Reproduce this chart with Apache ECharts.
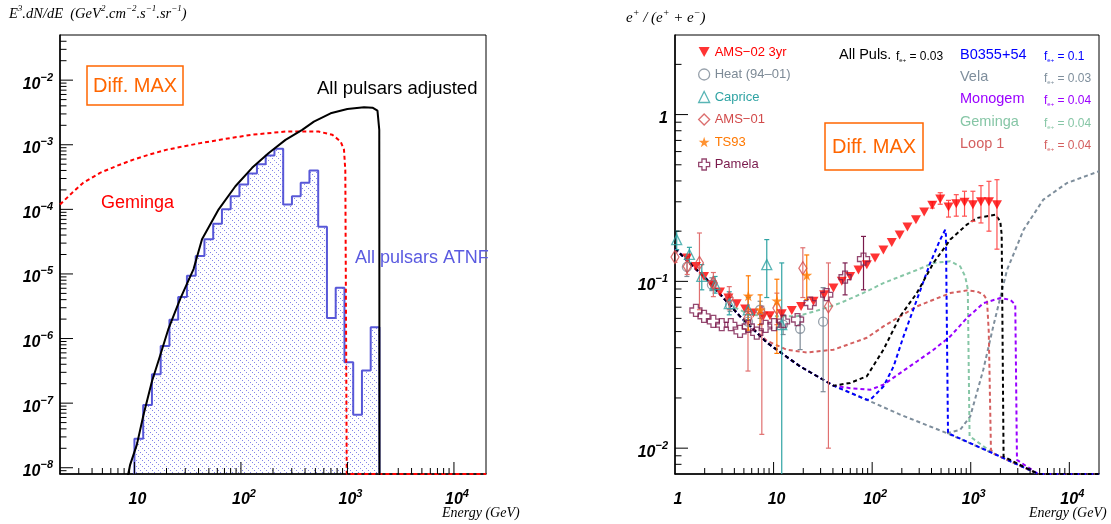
<!DOCTYPE html>
<html><head><meta charset="utf-8">
<script src="https://cdn.jsdelivr.net/npm/echarts@6/dist/echarts.min.js"></script>
<style>html,body{margin:0;padding:0;background:#fff}#c{width:1111px;height:524px}</style>
</head><body><div id="c"></div>
<script>
// ================= LEFT PANEL DATA =================
const L_xRange = [2, 20000];
const L_yRange = [8e-9, 0.05];
const L_xMajor = [10, 100, 1000, 10000];
const L_xLabels = ['10', '10^2', '10^3', '10^4'];
const L_yMajor = [1e-8, 1e-7, 1e-6, 1e-5, 1e-4, 1e-3, 1e-2];
const L_yLabels = ['10^-8', '10^-7', '10^-6', '10^-5', '10^-4', '10^-3', '10^-2'];

// ATNF histogram (bin edges in GeV, bin contents)
const histEdges = [10, 12.08, 14.60, 17.64, 21.31, 25.75, 31.11, 37.59, 45.42, 54.88, 66.31, 80.12, 96.81, 116.97, 141.33, 170.77, 206.34, 249.3, 301.2, 364.0, 439.8, 531.4, 642.1, 775.8, 937.4, 1132.7, 1368.6, 1653.7, 1998];
const histValues = [2.8e-8, 9.4e-8, 2.8e-7, 7.7e-7, 1.96e-6, 4.4e-6, 9.4e-6, 1.9e-5, 3.45e-5, 6.0e-5, 1.0e-4, 1.6e-4, 2.43e-4, 3.6e-4, 5.0e-4, 6.8e-4, 8.7e-4, 1.19e-4, 1.6e-4, 2.57e-4, 4.0e-4, 5.4e-5, 2.08e-6, 6.1e-6, 4.3e-7, 6.6e-8, 3.2e-7, 1.5e-6];

// All pulsars adjusted (black)
const adjE = [8.6, 9.12, 10.54, 12.17, 14.59, 17.47, 20.9, 26.9, 35.9, 43.1, 61.8, 88.7, 127.3, 182.5, 262, 376, 484, 695, 998, 1432, 1718, 1914, 1990, 2000];
const adjV = [7e-9, 1.12e-8, 2.28e-8, 6.6e-8, 2.16e-7, 5.5e-7, 1.43e-6, 4.1e-6, 1.19e-5, 3.45e-5, 1.0e-4, 2.28e-4, 4.39e-4, 7.45e-4, 1.19e-3, 1.70e-3, 2.28e-3, 3.07e-3, 3.58e-3, 3.80e-3, 3.75e-3, 3.37e-3, 1.7e-3, 5e-9];

// Geminga (red dashed)
const gemE = [2, 2.6, 3.31, 4.75, 6.8, 9.77, 14, 20.2, 41.6, 80, 127, 262, 536, 721, 864, 928, 955, 985, 20000];
const gemV = [1.19e-4, 1.8e-4, 2.58e-4, 3.67e-4, 4.7e-4, 5.88e-4, 7.1e-4, 8.4e-4, 1.06e-3, 1.27e-3, 1.43e-3, 1.60e-3, 1.60e-3, 1.43e-3, 1.12e-3, 8.4e-4, 4.0e-4, 8e-9, 8e-9];

// ================= RIGHT PANEL DATA =================
const R_xRange = [1, 20000];
const R_yRange = [0.007, 3];
const R_xMajor = [1, 10, 100, 1000, 10000];
const R_xLabels = ['1', '10', '10^2', '10^3', '10^4'];
const R_yMajor = [0.01, 0.1, 1];
const R_yLabels = ['10^-2', '10^-1', '1'];

// secondary background (shared part of all model curves)
const bkgE = [1, 2.1, 4.57, 8.53, 18.6, 40.5, 88.3, 192, 573, 1692, 4842, 20000];
const bkgV = [0.157, 0.1026, 0.0617, 0.0430, 0.0309, 0.0237, 0.0195, 0.0159, 0.0123, 0.0093, 0.0070, 0.0070];
// pulsar curves (own part, joined to background)
const allPulsE = [59.8, 88.3, 130, 192, 284, 419, 620, 914, 1156, 1774, 1994, 2060, 2153];
const allPulsV = [0.0246, 0.0270, 0.0389, 0.0617, 0.0851, 0.129, 0.178, 0.219, 0.240, 0.251, 0.229, 0.19, 0.0089];
const b0355E = [95.5, 130, 165, 208, 284, 388, 490, 551, 560, 588];
const b0355V = [0.0195, 0.0234, 0.0309, 0.0468, 0.0776, 0.129, 0.178, 0.204, 0.19, 0.0123];
const velaE = [573, 782, 988, 1340, 1692, 2333, 3436, 5445, 9480, 20000];
const velaV = [0.0123, 0.0129, 0.0155, 0.0295, 0.0537, 0.117, 0.204, 0.309, 0.389, 0.457];
const monoE = [59.8, 95.5, 130, 192, 284, 419, 620, 914, 1349, 1994, 2518, 2830, 2944];
const monoV = [0.0229, 0.0224, 0.024, 0.0282, 0.0331, 0.0389, 0.0468, 0.0603, 0.0741, 0.0794, 0.0776, 0.0724, 0.0085];
const gemRE = [3.62, 5.77, 9.95, 17.2, 29.7, 47.3, 88.3, 130, 284, 419, 620, 782, 879, 933, 973];
const gemRV = [0.0718, 0.0631, 0.0617, 0.0617, 0.0676, 0.0741, 0.0871, 0.0977, 0.117, 0.129, 0.132, 0.123, 0.107, 0.09, 0.0118];
const loopE = [8.53, 13.6, 21.7, 40.5, 88.3, 130, 192, 284, 419, 620, 914, 1156, 1349, 1461, 1523, 1603];
const loopV = [0.0441, 0.0389, 0.0375, 0.0389, 0.0459, 0.0537, 0.0617, 0.0708, 0.0776, 0.0851, 0.0883, 0.0871, 0.0832, 0.0776, 0.05, 0.0098];

// measurements
const amsE = [1.33, 1.63, 1.97, 2.36, 2.86, 3.48, 4.23, 5.14, 6.24, 7.87, 9.2, 12.1, 15.3, 19.0, 25.4, 32.6, 40.5, 49.2, 59.8, 72.6, 88.3, 107, 130, 158, 190, 228, 278, 337, 407, 490, 595, 713, 865, 1052, 1270, 1530, 1845];
const amsV = [0.138, 0.123, 0.107, 0.0955, 0.0863, 0.0794, 0.0735, 0.0683, 0.0646, 0.0617, 0.0622, 0.064, 0.067, 0.0708, 0.0759, 0.0832, 0.0912, 0.1, 0.107, 0.117, 0.126, 0.138, 0.154, 0.171, 0.19, 0.212, 0.234, 0.261, 0.286, 0.312, 0.279, 0.292, 0.298, 0.288, 0.3, 0.3, 0.288];
const amsLo = [null, null, null, null, null, null, null, null, null, null, null, null, null, null, null, null, null, null, null, null, null, null, null, null, null, null, null, null, 0.275, 0.29, 0.243, 0.246, 0.246, 0.229, 0.224, 0.2, 0.156];
const amsHi = [null, null, null, null, null, null, null, null, null, null, null, null, null, null, null, null, null, null, null, null, null, null, null, null, null, null, null, null, 0.3, 0.34, 0.306, 0.331, 0.347, 0.347, 0.375, 0.398, 0.407];
const heatE = [1.32, 2.37, 3.62, 5.5, 7.3, 12.5, 18.6, 31.8];
const heatV = [0.122, 0.0955, 0.0725, 0.0573, 0.0676, 0.055, 0.052, 0.0573];
const heatLo = [0.107, 0.088, 0.066, 0.05, 0.06, 0.048, 0.039, 0.0218];
const heatHi = [0.141, 0.105, 0.08, 0.066, 0.076, 0.063, 0.062, 0.0917];
const capE = [1.04, 1.4, 1.87, 2.55, 3.55, 5.54, 8.53, 12.1];
const capV = [0.178, 0.145, 0.107, 0.0955, 0.0735, 0.0676, 0.126, 0.055];
const capLo = [0.155, 0.13, 0.089, 0.085, 0.063, 0.059, 0.08, 0.005];
const capHi = [0.2, 0.16, 0.126, 0.107, 0.0866, 0.08, 0.178, 0.129];
const ams1E = [1.0, 1.33, 1.77, 2.45, 3.55, 5.5, 7.6, 10.8, 19.8, 36];
const ams1V = [0.14, 0.123, 0.129, 0.0977, 0.0794, 0.0605, 0.0646, 0.0692, 0.12, 0.0708];
const ams1Lo = [0.13, 0.11, 0.0676, 0.081, 0.0676, 0.029, 0.0121, 0.055, 0.08, 0.01];
const ams1Hi = [0.15, 0.135, 0.195, 0.113, 0.093, 0.082, 0.071, 0.085, 0.159, 0.129];
const tsE = [5.54, 7.3, 10.8, 21.7];
const tsV = [0.082, 0.0676, 0.0766, 0.109];
const tsLo = [0.051, 0.055, 0.037, 0.078];
const tsHi = [0.108, 0.083, 0.103, 0.144];
const pamE = [1.63, 1.97, 2.45, 2.98, 3.68, 4.57, 5.54, 6.75, 8.31, 10.1, 12.6, 17.5, 23.5, 34.6, 53.1, 81.7];
const pamV = [0.067, 0.0617, 0.0575, 0.055, 0.055, 0.0501, 0.0537, 0.049, 0.0537, 0.055, 0.0575, 0.059, 0.0741, 0.0832, 0.106, 0.136];
const pamLo = [null, null, null, null, null, null, null, null, null, null, null, null, null, null, 0.083, 0.089];
const pamHi = [null, null, null, null, null, null, null, null, null, null, null, null, null, null, 0.129, 0.186];

// ================= HELPERS =================
const SANS = '"Liberation Sans", Arial, sans-serif';
const SERIF = '"Liberation Serif", "DejaVu Serif", serif';
const zip = (a, b) => a.map((v, i) => [v, b[i]]);
function joinBkg(E, V) {
  const out = [];
  bkgE.forEach((e, i) => { if (e < E[0]) out.push([e, bkgV[i]]); });
  E.forEach((e, i) => out.push([e, V[i]]));
  bkgE.forEach((e, i) => { if (e > E[E.length - 1]) out.push([e, bkgV[i]]); });
  return out;
}
function minorTicks(lo, hi) {
  const out = [];
  for (let d = Math.floor(Math.log10(lo)); d <= Math.ceil(Math.log10(hi)); d++)
    for (let k = 2; k <= 9; k++) { const v = k * Math.pow(10, d); if (v > lo * 1.0001 && v < hi * 0.9999) out.push(v); }
  return out;
}
function supText(label) {
  const p = label.split('^');
  return p.length > 1 ? `{b|${p[0]}}{s|${p[1].replace('-', '\u2212')}}` : `{b|${p[0]}}`;
}
const tickRich = {
  b: { fontSize: 16, fontWeight: 'bold', fontStyle: 'italic', fontFamily: SANS, fill: '#000', verticalAlign: 'bottom', lineHeight: 20 },
  s: { fontSize: 11, fontWeight: 'bold', fontStyle: 'italic', fontFamily: SANS, fill: '#000', verticalAlign: 'top', lineHeight: 12 }
};
function tickSeries(gi, axis, vals, len, other) {
  return {
    type: 'custom', xAxisIndex: gi, yAxisIndex: gi, clip: false, silent: true, z: 6,
    data: vals.map(v => axis === 'x' ? [v, other, len] : [other, v, len]),
    renderItem(params, api) {
      const p = api.coord([api.value(0), api.value(1)]);
      const l = api.value(2);
      const shape = axis === 'x' ? { x1: p[0], y1: p[1], x2: p[0], y2: p[1] - l } : { x1: p[0], y1: p[1], x2: p[0] + l, y2: p[1] };
      return { type: 'line', shape, style: { stroke: '#000', lineWidth: 1 } };
    }
  };
}
function labelSeries(gi, axis, vals, labels, other) {
  return {
    type: 'custom', xAxisIndex: gi, yAxisIndex: gi, clip: false, silent: true, z: 6,
    data: vals.map((v, i) => axis === 'x' ? [v, other, i] : [other, v, i]),
    renderItem(params, api) {
      const p = api.coord([api.value(0), api.value(1)]);
      const lab = labels[api.value(2)];
      const isX = axis === 'x';
      return {
        type: 'text', x: isX ? p[0] + 3 : p[0] - 7, y: isX ? p[1] + 24 : p[1] + 2,
        style: { text: supText(lab), rich: tickRich, align: isX ? 'center' : 'right', verticalAlign: 'middle', fill: '#000' }
      };
    }
  };
}
function errSeries(gi, E, V, lo, hi, color) {
  const data = [];
  E.forEach((e, i) => { if (lo[i] != null) data.push([e, lo[i], hi[i]]); });
  return {
    type: 'custom', xAxisIndex: gi, yAxisIndex: gi, clip: true, silent: true, z: 3,
    data,
    renderItem(params, api) {
      const a = api.coord([api.value(0), api.value(1)]);
      const b = api.coord([api.value(0), api.value(2)]);
      const st = { stroke: color, lineWidth: 1.2 };
      return { type: 'group', children: [
        { type: 'line', shape: { x1: a[0], y1: a[1], x2: b[0], y2: b[1] }, style: st },
        { type: 'line', shape: { x1: a[0] - 2.5, y1: a[1], x2: a[0] + 2.5, y2: a[1] }, style: st },
        { type: 'line', shape: { x1: b[0] - 2.5, y1: b[1], x2: b[0] + 2.5, y2: b[1] }, style: st }
      ] };
    }
  };
}

// hatch pattern
const pat = document.createElement('canvas'); pat.width = 6; pat.height = 6;
const pg = pat.getContext('2d'); pg.fillStyle = 'rgba(90,90,225,0.75)';
for (let i = 0; i < 6; i += 2) pg.fillRect(i, i, 1, 1);

// histogram outline points (built from bins)
const histLine = [[histEdges[0], L_yRange[0]]];
histValues.forEach((v, i) => { histLine.push([histEdges[i], v]); histLine.push([histEdges[i + 1], v]); });
histLine.push([histEdges[histEdges.length - 1], L_yRange[0]]);

// ================= SYMBOLS / COLORS =================
const SYM_DOWN = 'path://M0,0 L10,0 L5,9 Z';
const SYM_STAR = 'path://M50,0 L61,35 L98,35 L68,57 L79,91 L50,70 L21,91 L32,57 L2,35 L39,35 Z';
const SYM_CROSS = 'path://M3,0 L7,0 L7,3 L10,3 L10,7 L7,7 L7,10 L3,10 L3,7 L0,7 L0,3 L3,3 Z';
const C = { ams: '#ff0000', heat: '#7d8a96', cap: '#2fa3a3', ams1: '#d24a4a', ts: '#ff7800', pam: '#7a1a4c',
  all: '#000000', b0355: '#0000ff', vela: '#7e8e9c', mono: '#9a00ff', gem: '#86c6a6', loop: '#d45f5f' };

const measures = [
  { name: 'AMS\u221202 3yr', E: amsE, V: amsV, lo: amsLo, hi: amsHi, sym: SYM_DOWN, size: [10, 9], color: C.ams, hollow: false, err: '#ff5050' },
  { name: 'Heat (94\u201301)', E: heatE, V: heatV, lo: heatLo, hi: heatHi, sym: 'circle', size: 9, color: C.heat, hollow: true, err: C.heat },
  { name: 'Caprice', E: capE, V: capV, lo: capLo, hi: capHi, sym: 'triangle', size: [10, 10], color: C.cap, hollow: true, err: C.cap },
  { name: 'AMS\u221201', E: ams1E, V: ams1V, lo: ams1Lo, hi: ams1Hi, sym: 'diamond', size: [8, 13], color: C.ams1, hollow: true, err: '#e07070' },
  { name: 'TS93', E: tsE, V: tsV, lo: tsLo, hi: tsHi, sym: SYM_STAR, size: 11, color: C.ts, hollow: false, err: C.ts },
  { name: 'Pamela', E: pamE, V: pamV, lo: pamLo, hi: pamHi, sym: SYM_CROSS, size: 12, color: C.pam, hollow: true, err: C.pam }
];

const dash = [4, 3];
function curve(gi, data, color, z) {
  return { type: 'line', xAxisIndex: gi, yAxisIndex: gi, data, showSymbol: false, symbol: 'none', silent: true,
    smooth: false, z: z || 2, lineStyle: { color, width: 2, type: dash }, clip: true };
}

const series = [];
// --- left panel ---
series.push({
  type: 'custom', xAxisIndex: 0, yAxisIndex: 0, clip: true, silent: true, z: 1,
  data: histValues.map((v, i) => [histEdges[i], v, histEdges[i + 1]]),
  renderItem(params, api) {
    const a = api.coord([api.value(0), api.value(1)]);
    const b = api.coord([api.value(2), L_yRange[0]]);
    return { type: 'rect', shape: { x: a[0], y: a[1], width: b[0] - a[0], height: b[1] - a[1] },
      style: { fill: { image: pat, repeat: 'repeat' }, stroke: null } };
  }
});
series.push({ type: 'line', xAxisIndex: 0, yAxisIndex: 0, data: histLine, showSymbol: false, symbol: 'none', silent: true, z: 2,
  lineStyle: { color: '#5858d8', width: 2 } });
series.push({ type: 'line', xAxisIndex: 0, yAxisIndex: 0, data: zip(gemE, gemV), showSymbol: false, symbol: 'none', silent: true, z: 3,
  smooth: false, lineStyle: { color: '#ff0000', width: 2, type: dash } });
series.push({ type: 'line', xAxisIndex: 0, yAxisIndex: 0, data: zip(adjE, adjV), showSymbol: false, symbol: 'none', silent: true, z: 4,
  smooth: false, lineStyle: { color: '#000', width: 2 } });
// --- right panel curves ---
series.push(curve(1, zip(velaE, velaV), C.vela, 2));
series.push(curve(1, zip(bkgE, bkgV), C.vela, 2));
series.push(curve(1, joinBkg(gemRE, gemRV), C.gem, 2));
series.push(curve(1, joinBkg(loopE, loopV), C.loop, 2));
series.push(curve(1, joinBkg(monoE, monoV), C.mono, 2));
series.push(curve(1, joinBkg(b0355E, b0355V), C.b0355, 2));
series.push(curve(1, joinBkg(allPulsE, allPulsV), C.all, 2));
// --- right panel data ---
measures.forEach(m => {
  series.push(errSeries(1, m.E, m.V, m.lo, m.hi, m.err));
  series.push({ type: 'scatter', name: m.name, xAxisIndex: 1, yAxisIndex: 1, data: zip(m.E, m.V), symbol: m.sym, symbolSize: m.size, z: 4,
    itemStyle: m.hollow ? { color: 'rgba(255,255,255,0)', borderColor: m.color, borderWidth: 1.3 } : { color: m.color } });
});
// --- axes decorations ---
[[0, L_xRange, L_yRange, L_xMajor, L_xLabels, L_yMajor, L_yLabels], [1, R_xRange, R_yRange, R_xMajor, R_xLabels, R_yMajor, R_yLabels]].forEach(([gi, xr, yr, xm, xl, ym, yl]) => {
  series.push(tickSeries(gi, 'x', xm.filter(v => v > xr[0] && v < xr[1]), 12, yr[0]));
  series.push(tickSeries(gi, 'x', minorTicks(xr[0], xr[1]), 6, yr[0]));
  series.push(tickSeries(gi, 'y', ym, 13, xr[0]));
  series.push(tickSeries(gi, 'y', minorTicks(yr[0], yr[1]), 6.5, xr[0]));
  series.push(labelSeries(gi, 'x', xm, xl, yr[0]));
  series.push(labelSeries(gi, 'y', ym, yl, xr[0]));
});

function axisPair(gi, xr, yr) {
  return {
    x: { type: 'log', logBase: 10, gridIndex: gi, min: xr[0], max: xr[1], axisLine: { show: true, onZero: false, lineStyle: { color: '#000', width: 1.5 } },
      axisTick: { show: false }, axisLabel: { show: false }, splitLine: { show: false } },
    y: { type: 'log', logBase: 10, gridIndex: gi, min: yr[0], max: yr[1], axisLine: { show: true, onZero: false, lineStyle: { color: '#000', width: 1.5 } },
      axisTick: { show: false }, axisLabel: { show: false }, splitLine: { show: false } }
  };
}
const A0 = axisPair(0, L_xRange, L_yRange), A1 = axisPair(1, R_xRange, R_yRange);

const serifRich = (size) => ({
  t: { fontSize: size, fontStyle: 'italic', fontWeight: 'normal', fontFamily: SERIF, color: '#000', verticalAlign: 'bottom', lineHeight: 18 },
  u: { fontSize: Math.round(size * 0.65), fontStyle: 'italic', fontWeight: 'normal', fontFamily: SERIF, color: '#000', verticalAlign: 'top', lineHeight: 12 }
});
const fRich = (color) => ({
  f: { fontSize: 12, fontFamily: SANS, fontWeight: 'normal', color, verticalAlign: 'bottom', lineHeight: 18 },
  s: { fontSize: 6, fontFamily: SANS, fontWeight: 'normal', color, verticalAlign: 'bottom', lineHeight: 16 }
});
function T(text, left, top, size, color, extra) {
  return Object.assign({ text, left, top, padding: 0, textStyle: { fontSize: size, color, fontFamily: SANS, fontWeight: 'normal' } }, extra || {});
}
const boxStyle = (size) => ({ fontSize: size, color: '#ff6600', fontFamily: SANS, fontWeight: 'normal', lineHeight: size + 8 });
const titles = [
  { text: '{t|E}{u|3}{t|.dN/dE  (GeV}{u|2}{t|.cm}{u|\u22122}{t|.s}{u|\u22121}{t|.sr}{u|\u22121}{t|)}', left: 9, top: 4, padding: 0, textStyle: { rich: serifRich(14.5) } },
  { text: '{t|Energy (GeV)}', left: 442, top: 502, padding: 0, textStyle: { rich: serifRich(14) } },
  { text: '{t|e}{u|+}{t| / (e}{u|+}{t| + e}{u|\u2212}{t|)}', left: 626, top: 8, padding: 0, textStyle: { rich: serifRich(15) } },
  { text: '{t|Energy (GeV)}', left: 1029, top: 502, padding: 0, textStyle: { rich: serifRich(14) } },
  T('Diff. MAX', 87, 66, 20, '#ff6600', { padding: [6, 6, 5, 6], borderColor: '#ff6600', borderWidth: 1.5, textStyle: boxStyle(20) }),
  T('All pulsars adjusted', 317, 79, 18.5, '#000'),
  T('Geminga', 101, 194, 18, '#ff0000'),
  T('All pulsars ATNF', 355, 249, 18, '#5a5ae0'),
  T('Diff. MAX', 825, 123, 20, '#ff6600', { padding: [10, 7, 9, 7], borderColor: '#ff6600', borderWidth: 1.5, textStyle: boxStyle(20) }),
  T('All Puls.', 839, 47, 14.5, '#000'),
  { text: '{f|f}{s|e+}{f| = 0.03}', left: 896, top: 45, padding: 0, textStyle: { rich: fRich('#000') } },
  T('B0355+54', 960, 47, 14.5, C.b0355),
  { text: '{f|f}{s|e+}{f| = 0.1}', left: 1044, top: 45, padding: 0, textStyle: { rich: fRich(C.b0355) } },
  T('Vela', 960, 69, 14.5, C.vela),
  { text: '{f|f}{s|e+}{f| = 0.03}', left: 1044, top: 67, padding: 0, textStyle: { rich: fRich(C.vela) } },
  T('Monogem', 960, 91, 14.5, C.mono),
  { text: '{f|f}{s|e+}{f| = 0.04}', left: 1044, top: 89, padding: 0, textStyle: { rich: fRich(C.mono) } },
  T('Geminga', 960, 114, 14.5, C.gem),
  { text: '{f|f}{s|e+}{f| = 0.04}', left: 1044, top: 112, padding: 0, textStyle: { rich: fRich(C.gem) } },
  T('Loop 1', 960, 136, 14.5, C.loop),
  { text: '{f|f}{s|e+}{f| = 0.04}', left: 1044, top: 134, padding: 0, textStyle: { rich: fRich(C.loop) } }
];

const chart = echarts.init(document.getElementById('c'), null, { renderer: 'canvas' });
chart.setOption({
  animation: false,
  backgroundColor: '#fff',
  title: titles,
  legend: {
    show: true, orient: 'vertical', left: 698, top: 44, itemWidth: 11, itemHeight: 11, itemGap: 6.5, itemTextGap: 7,
    selectedMode: false, padding: 0,
    textStyle: { fontSize: 13, fontFamily: SANS, lineHeight: 16 },
    data: measures.map(m => ({ name: m.name, icon: m.sym, textStyle: { color: m.color },
      itemStyle: m.hollow ? { color: 'rgba(255,255,255,0)', borderColor: m.color, borderWidth: 1.3 } : { color: m.color, borderWidth: 0 } }))
  },
  grid: [
    { left: 60, top: 35, width: 426, height: 439, show: true, borderColor: '#000', borderWidth: 1, backgroundColor: 'transparent' },
    { left: 675, top: 35, width: 424, height: 439, show: true, borderColor: '#000', borderWidth: 1, backgroundColor: 'transparent' }
  ],
  xAxis: [A0.x, A1.x],
  yAxis: [A0.y, A1.y],
  series
});
</script></body></html>
